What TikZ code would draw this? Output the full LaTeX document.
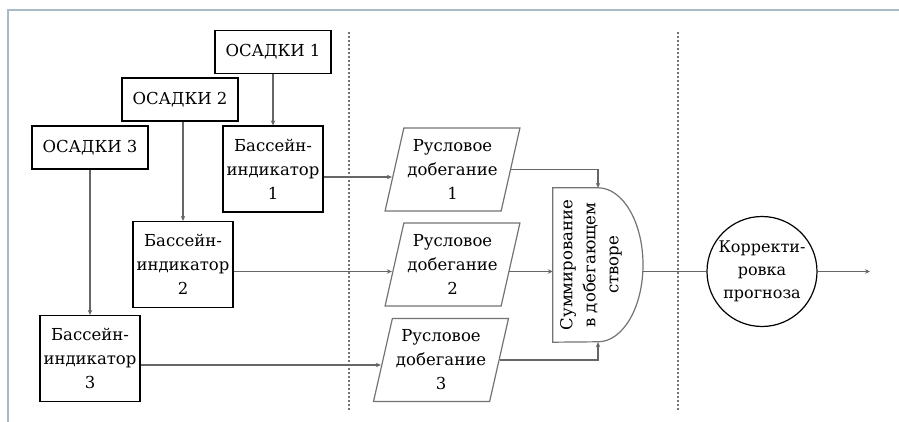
\documentclass[tikz,border=0pt]{standalone}
\usepackage{fontspec}
\setmainfont{DejaVu Serif}
\usetikzlibrary{shapes.geometric,arrows.meta,calc}
\definecolor{framecol}{HTML}{A7BCC7}
\tikzset{>={Stealth[length=5pt,width=4.5pt]},
  plain/.style={draw,line width=1.2pt,align=center,inner sep=1pt,font=\fontsize{16.5}{24}\selectfont},
  osbox/.style={plain,minimum width=116pt,minimum height=43pt},
  basbox/.style={plain,minimum width=100pt,minimum height=86pt},
  ruslbox/.style={plain,draw=black!55,trapezium,trapezium left angle=74,trapezium right angle=106,
    trapezium stretches=true,minimum width=135pt,minimum height=83pt},
  corrbox/.style={plain,circle,inner sep=0pt,minimum size=110pt,font=\fontsize{16}{23}\selectfont},
  link/.style={draw=black!60,line width=1.1pt},
  divline/.style={draw=black!55,line width=1.2pt,dash pattern=on 2pt off 2pt}}

\begin{document}
\begin{tikzpicture}[x=1pt,y=-1pt]
\useasboundingbox (0,0) rectangle (899,422);
\draw[framecol,line width=2pt] (899,10) -- (8,10) -- (8,422);
\draw[divline] (349,32) -- (349,411);
\draw[divline] (678,32) -- (678,411);

\node[osbox] (os1) at (273,52) {ОСАДКИ 1};
\node[osbox] (os2) at (180,99.5) {ОСАДКИ 2};
\node[osbox] (os3) at (90,147.5) {ОСАДКИ 3};
\node[basbox] (bas1) at (273,169) {Бассейн-\\индикатор\\1};
\node[basbox] (bas2) at (183,264.5) {Бассейн-\\индикатор\\2};
\node[basbox] (bas3) at (90,358.5) {Бассейн-\\индикатор\\3};
\node[ruslbox] (rusl1) at (452.5,169.5) {Русловое\\добегание\\1};
\node[ruslbox] (rusl2) at (452.5,264.5) {Русловое\\добегание\\2};
\node[ruslbox] (rusl3) at (441,360) {Русловое\\добегание\\3};
\node[minimum width=90pt,minimum height=154pt,inner sep=0pt] (sum) at (598,265) {};
\draw[draw=black!55,line width=1.2pt] (sum.north west) -- (sum.north)
  arc[start angle=90,end angle=-90,x radius=45pt,y radius=77pt] -- (sum.south west) -- cycle;
\node[rotate=90,align=center,font=\fontsize{16.5}{23}\selectfont] (sumtext) at ($(sum.center)+(-7,0)$)
  {Суммирование\\в добегающем\\створе};
\node[corrbox] (corr) at (762,271.5) {Корректи-\\ровка\\прогноза};

\coordinate (ya) at (0,177);
\coordinate (yb) at (0,271.5);
\coordinate (yc) at (0,365);
\coordinate (out) at (870,271.5);

\draw[link,->] (os1) -- (bas1);
\draw[link,->] (bas2.north |- os2.south) -- (bas2.north);
\draw[link,->] (os3) -- (bas3);
\draw[link,->] (bas1.east |- ya) -- ($(rusl1.west |- ya)+(-2,0)$);
\draw[link,->] (bas2.east |- yb) -- ($(rusl2.west |- yb)+(-2,0)$);
\draw[link,->] (bas3.east |- yc) -- ($(rusl3.west |- yc)+(-1.5,0)$);
\draw[link,->] (rusl1.east) -| (sum.north);
\draw[link,->] ($(rusl2.east |- yb)+(-2,0)$) -- (sum.west |- yb);
\draw[link,->] (rusl3.east) -| (sum.south);
\draw[link] (sum.east |- yb) -- (corr.west);
\draw[link,->] (corr.east) -- (out);
\end{tikzpicture}
\end{document}
